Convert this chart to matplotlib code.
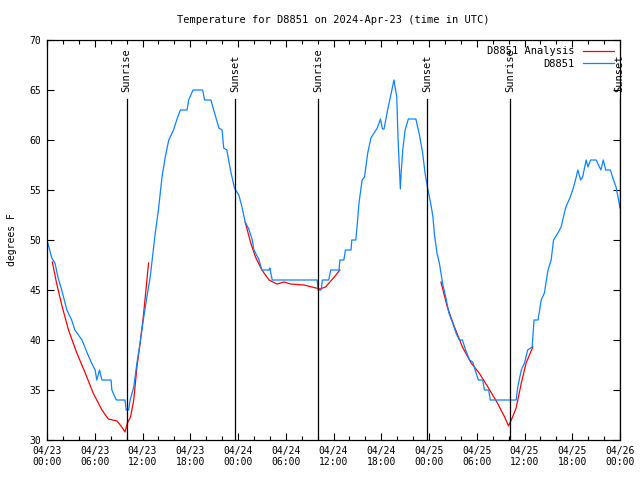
import matplotlib
matplotlib.use('Agg')
import matplotlib.pyplot as plt
import numpy as np

# hours since 2024-04-23 00:00 UTC
obs_hours = [0.0, 0.6, 1.0, 1.4, 1.85, 2.5, 3.1, 3.5, 4.4, 5.0, 5.6, 6.05, 6.25, 6.6, 6.9,
             8.05, 8.15, 8.7, 9.8, 9.95, 10.25, 10.45, 10.9, 11.3, 11.7, 12.1, 12.55, 12.97,
             13.4, 13.6, 14.0, 14.45, 14.86, 15.3, 15.9, 16.3, 16.75, 17.6, 17.8, 18.35,
             19.56, 19.8, 20.6, 20.95, 21.6, 22.0, 22.2, 22.6, 23.05, 23.55, 24.1, 24.5,
             24.9, 25.35, 25.8, 26.0, 26.6, 27.0, 27.9, 28.0, 28.3, 33.96, 34.05, 34.45,
             34.6, 35.4, 35.65, 36.7, 36.8, 37.3, 37.5, 38.2, 38.3, 38.8, 39.0, 39.2, 39.6,
             39.9, 40.3, 40.7, 41.1, 41.5, 41.9, 42.15, 42.35, 42.8, 43.2, 43.6, 43.95,
             44.1, 44.4, 44.5, 44.7, 45.0, 45.4, 46.35, 46.8, 47.2, 47.5, 47.8, 48.2, 48.5,
             48.66, 49.0, 49.3, 49.7, 50.1, 50.5, 50.97, 51.4, 51.8, 52.2, 52.6, 53.1, 53.5,
             53.8, 54.2, 54.75, 54.96, 55.5, 55.7, 58.95, 59.15, 59.6, 60.0, 60.4, 60.96,
             61.2, 61.7, 62.1, 62.5, 62.95, 63.35, 63.65, 64.2, 64.6, 64.8, 65.2, 65.7, 66.1,
             66.5, 66.7, 67.05, 67.3, 67.75, 67.97, 68.3, 69.0, 69.3, 69.6, 69.9, 70.2, 70.8,
             71.1, 71.5, 71.75, 72.0]
obs_temps = [50.0, 48.2, 47.7, 46.2, 45.0, 43.0, 42.0, 41.0, 40.0, 38.8, 37.7, 37.0, 36.0, 37.0, 36.0,
             36.0, 35.0, 34.0, 34.0, 33.0, 33.0, 34.0, 35.3, 37.7, 39.7, 42.0, 44.3, 46.3,
             49.3, 50.7, 53.0, 56.3, 58.3, 60.0, 61.0, 62.0, 63.0, 63.0, 64.0, 65.0,
             65.0, 64.0, 64.0, 63.0, 61.2, 61.0, 59.2, 59.0, 57.0, 55.2, 54.5, 53.3,
             51.8, 51.1, 50.0, 49.0, 48.1, 47.0, 47.0, 47.2, 46.0, 46.0, 45.0, 45.0,
             46.0, 46.0, 47.0, 47.0, 48.0, 48.0, 49.0, 49.0, 50.0, 50.0, 51.7, 53.7, 56.0,
             56.3, 58.7, 60.2, 60.7, 61.2, 62.1, 61.1, 61.1, 63.0, 64.5, 66.0, 64.3,
             60.3, 55.1, 56.7, 59.0, 61.0, 62.1, 62.1, 60.5, 58.7, 56.7, 55.3, 53.7, 52.3,
             50.7, 48.7, 47.7, 45.7, 44.3, 42.7, 41.7, 40.7, 40.0, 40.0, 39.0, 38.0, 37.8,
             37.0, 36.0, 36.0, 35.0, 35.0, 34.0, 34.0, 35.3, 37.0, 37.7, 39.0, 39.3,
             42.0, 42.0, 44.0, 44.7, 47.0, 48.0, 50.0, 50.7, 51.3, 52.0, 53.3, 54.2, 55.1,
             56.3, 57.0, 56.0, 56.3, 58.0, 57.3, 58.0, 58.0, 57.5, 57.0, 58.0, 57.0, 57.0,
             56.2, 55.3, 54.3, 53.2]

# analysis segments (three overnight pieces)
ana_hours_1 = [0.67, 1.2, 1.85, 2.7, 3.7, 4.8, 5.8, 6.9, 7.7, 8.8, 9.4, 9.8, 10.1, 10.5, 10.9,
               11.3, 11.7, 12.1, 12.47, 12.76]
ana_temps_1 = [47.8, 45.7, 43.5, 41.0, 38.8, 36.7, 34.7, 33.0, 32.1, 31.9, 31.3, 30.8, 31.7, 32.3,
               34.0, 37.3, 39.7, 42.3, 45.3, 47.7]
ana_hours_2 = [24.9, 25.6, 26.2, 27.0, 27.9, 28.9, 29.8, 30.6, 32.3, 33.3, 34.3, 35.0, 36.1, 36.8]
ana_temps_2 = [51.8, 49.7, 48.3, 47.0, 46.0, 45.6, 45.8, 45.6, 45.5, 45.3, 45.1, 45.3, 46.3, 47.0]
ana_hours_3 = [49.5, 50.3, 51.2, 52.2, 53.3, 54.3, 55.4, 56.6, 57.5, 58.0, 58.5, 58.95, 59.6,
               60.2, 61.05]
ana_temps_3 = [45.8, 43.3, 41.3, 39.3, 37.7, 36.7, 35.3, 33.7, 32.3, 31.4, 32.3, 33.2, 35.7,
               37.7, 39.3]

sun_hours = [10.0, 23.6, 34.05, 47.8, 58.15, 71.95]
sun_labels = ['Sunrise', 'Sunset', 'Sunrise', 'Sunset', 'Sunrise', 'Sunset']

tick_hours = list(range(0, 73, 6))
tick_labels = ['04/23\n00:00', '04/23\n06:00', '04/23\n12:00', '04/23\n18:00',
               '04/24\n00:00', '04/24\n06:00', '04/24\n12:00', '04/24\n18:00',
               '04/25\n00:00', '04/25\n06:00', '04/25\n12:00', '04/25\n18:00',
               '04/26\n00:00']

plt.rcParams['font.family'] = 'DejaVu Sans Mono'
plt.rcParams['font.size'] = 7

fig = plt.figure(figsize=(6.4, 4.8), dpi=100)
ax = fig.add_axes([47 / 640, 40 / 480, 573 / 640, 400 / 480])

red = '#ff0000'
blue = '#0a84ff'

ax.plot(ana_hours_1, ana_temps_1, color=red, lw=0.9, label='D8851 Analysis')
ax.plot(ana_hours_2, ana_temps_2, color=red, lw=0.9)
ax.plot(ana_hours_3, ana_temps_3, color=red, lw=0.9)
ax.plot(obs_hours, obs_temps, color=blue, lw=0.9, label='D8851')

for h, lab in zip(sun_hours, sun_labels):
    ax.axvline(h, ymin=0, ymax=(64.1 - 30) / 40, color='black', lw=0.9)
    ax.text(h, 64.8, lab, rotation=90, ha='center', va='bottom', fontsize=7.5)

ax.set_xlim(0, 72)
ax.set_ylim(30, 70)
ax.set_xticks(tick_hours)
ax.set_xticklabels(tick_labels)
ax.set_xticks(np.arange(0, 73, 2), minor=True)
ax.set_yticks(np.arange(30, 71, 5))
ax.tick_params(direction='in', top=True, right=True, length=5, width=0.8, pad=4)
ax.tick_params(which='minor', direction='in', top=True, length=3, width=0.8)
for s in ax.spines.values():
    s.set_linewidth(0.9)

ax.set_ylabel('degrees F', labelpad=9)
ax.set_title('Temperature for D8851 on 2024-Apr-23 (time in UTC)', fontsize=7.5, pad=12)

ax.legend(loc='upper right', frameon=False, markerfirst=False, handlelength=3.0,
          fontsize=7.5, borderaxespad=0.2, labelspacing=0.25, handletextpad=0.8)

fig.savefig('out.png', dpi=100)
